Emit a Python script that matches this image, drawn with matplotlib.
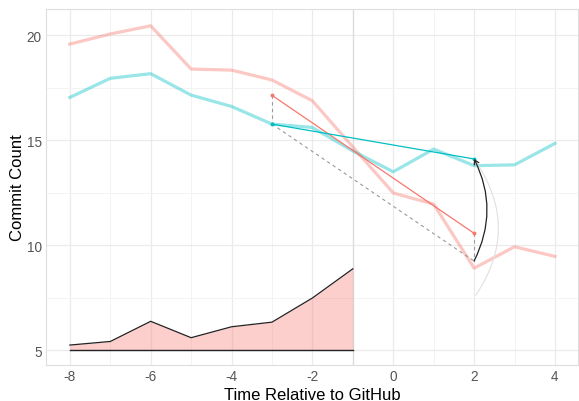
import matplotlib.pyplot as plt
from matplotlib.patches import FancyArrowPatch

plt.rcParams['font.family'] = ['Liberation Sans', 'DejaVu Sans']
plt.rcParams['axes.unicode_minus'] = False

# yearly series
years = [-8, -7, -6, -5, -4, -3, -2, -1, 0, 1, 2, 3, 4]
treated = [19.57, 20.05, 20.44, 18.38, 18.33, 17.86, 16.87, 14.67, 12.48, 11.95, 8.9, 9.92, 9.46]
control = [17.03, 17.94, 18.16, 17.14, 16.6, 15.76, 15.6, 14.48, 13.49, 14.57, 13.78, 13.82, 14.84]

# pre-period area
pre_years = [-8, -7, -6, -5, -4, -3, -2, -1]
pre_vals = [5.24, 5.41, 6.37, 5.59, 6.11, 6.33, 7.48, 8.87]
base = 5

# trend segments
seg_x = [-3, 2]
red_seg = [17.13, 10.56]
cyan_seg = [15.76, 14.1]
counterfactual = [15.76, 9.24]
faint_start = 7.5

pink = '#F8766D'
teal = '#00BFC4'

fig = plt.figure(figsize=(5.79, 4.02), dpi=100)
ax = fig.add_axes([46 / 579, 36 / 402, 532 / 579, 356 / 402])

ax.set_xlim(-8.59, 4.57)
ax.set_ylim(4.29, 21.24)
ax.set_xticks([-8, -6, -4, -2, 0, 2, 4])
ax.set_xticks([-7, -5, -3, -1, 1, 3], minor=True)
ax.set_yticks([5, 10, 15, 20])
ax.set_yticks([7.5, 12.5, 17.5], minor=True)
ax.grid(which='major', color='#ebebeb', lw=0.9, zorder=0)
ax.grid(which='minor', color='#f3f3f3', lw=0.7, zorder=0)
ax.tick_params(which='both', length=0, labelsize=9.8, colors='#555555', pad=3)
for s in ax.spines.values():
    s.set_color('#dedede')
    s.set_linewidth(0.8)
ax.set_axisbelow(True)

ax.axvline(-1, color='#dcdcdc', lw=1.0, zorder=1)

ax.plot(years, treated, color=pink, alpha=0.4, lw=2.3, zorder=2)
ax.plot(years, control, color=teal, alpha=0.4, lw=2.3, zorder=2)

ax.fill_between(pre_years, base, pre_vals, color=pink, alpha=0.35, lw=0, zorder=2)
ax.plot(pre_years, pre_vals, color='#222222', lw=0.9, zorder=3)
ax.plot(pre_years, [base] * len(pre_years), color='#222222', lw=1.0, zorder=3)

ax.plot(seg_x, red_seg, color=pink, lw=0.9, zorder=4)
ax.plot(seg_x, cyan_seg, color=teal, lw=0.9, zorder=4)
ax.plot(seg_x, red_seg, 'o', color=pink, ms=1.8, zorder=5)
ax.plot(seg_x, cyan_seg, 'o', color=teal, ms=1.8, zorder=5)

dash = dict(color='#999999', lw=0.8, ls=(0, (3, 3)), zorder=3)
ax.plot(seg_x, counterfactual, **dash)
ax.plot([seg_x[0], seg_x[0]], [red_seg[0], cyan_seg[0]], **dash)
ax.plot([seg_x[1], seg_x[1]], [red_seg[1], counterfactual[1]], **dash)

ax.add_patch(FancyArrowPatch((seg_x[1], faint_start), (seg_x[1], cyan_seg[1]),
                             connectionstyle='arc3,rad=0.35', arrowstyle='-',
                             color='#e0e0e0', lw=0.8, zorder=3))
ax.add_patch(FancyArrowPatch((seg_x[1], counterfactual[1]), (seg_x[1], cyan_seg[1]),
                             connectionstyle='arc3,rad=0.25', arrowstyle='->,head_length=3,head_width=1.8',
                             color='#222222', lw=0.9, zorder=6, shrinkA=0, shrinkB=0))

ax.set_xlabel('Time Relative to GitHub', fontsize=12, labelpad=3)
ax.set_ylabel('Commit Count', fontsize=12)
ax.yaxis.set_label_coords(-0.04, 0.5)

fig.savefig('out.png', dpi=100)
